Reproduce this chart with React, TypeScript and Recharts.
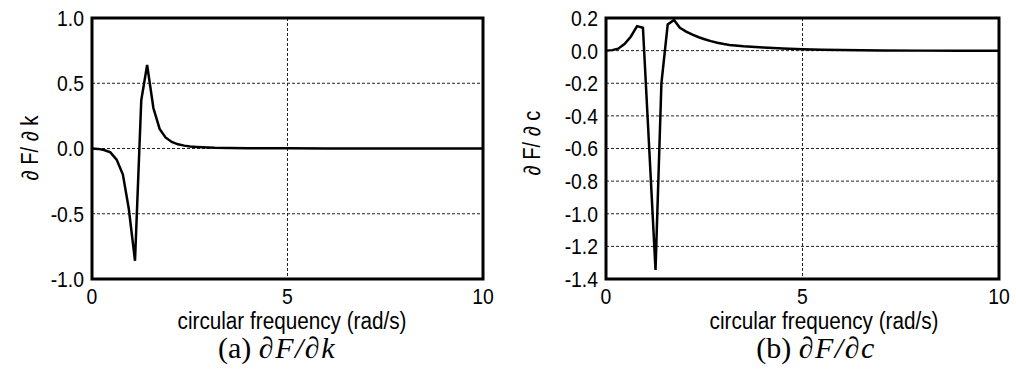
import React from 'react';
import { LineChart, Line, XAxis, YAxis, CartesianGrid, ReferenceArea } from 'recharts';

// circular frequency (rad/s) sample points
const freqA = [0, 0.16, 0.31, 0.47, 0.63, 0.79, 0.94, 1.1, 1.26, 1.41, 1.57, 1.73, 1.88, 2.04, 2.2, 2.36, 2.51, 2.67, 2.83, 2.98, 3.14, 3.5, 4, 5, 6, 7, 8, 9, 10];
const dFdk = [0, -0.003, -0.012, -0.03, -0.085, -0.2, -0.46, -0.86, 0.37, 0.64, 0.31, 0.15, 0.085, 0.05, 0.032, 0.022, 0.016, 0.012, 0.009, 0.007, 0.005, 0.003, 0.002, 0.001, 0, 0, 0, 0, 0];

const freqB = [0, 0.16, 0.31, 0.47, 0.63, 0.79, 0.94, 1.1, 1.26, 1.41, 1.57, 1.73, 1.88, 2.04, 2.2, 2.36, 2.51, 2.67, 2.83, 3.0, 3.14, 3.5, 4, 4.5, 5, 5.5, 6, 6.5, 7, 8, 9, 10];
const dFdc = [0, 0.003, 0.012, 0.04, 0.085, 0.15, 0.14, -0.6, -1.345, -0.2, 0.16, 0.188, 0.14, 0.117, 0.098, 0.082, 0.07, 0.058, 0.048, 0.04, 0.035, 0.027, 0.019, 0.013, 0.009, 0.006, 0.004, 0.002, 0.001, 0, 0, 0];

const xTicks = [0, 5, 10];
const yTicksA = [-1, -0.5, 0, 0.5, 1];
const yTicksB = [-1.4, -1.2, -1.0, -0.8, -0.6, -0.4, -0.2, 0, 0.2];

const dataA = freqA.map((f, i) => ({ f, v: dFdk[i] }));
const dataB = freqB.map((f, i) => ({ f, v: dFdc[i] }));

const SANS = "'Liberation Sans', Arial, sans-serif";
const SERIF = "'Liberation Serif', 'Times New Roman', serif";
const SQUEEZE = 0.88;

function XTick(props: any) {
  const { x, y, payload } = props;
  return (
    <text
      transform={`translate(${x},${y}) scale(${SQUEEZE},1)`}
      x={0}
      y={0}
      dy="0.75em"
      textAnchor="middle"
      fontFamily={SANS}
      fontSize={22}
      fill="#000"
    >
      {payload.value}
    </text>
  );
}

function YTick(props: any) {
  const { x, y, payload } = props;
  return (
    <text
      transform={`translate(${x},${y}) scale(${SQUEEZE},1)`}
      x={0}
      y={0}
      dy="0.36em"
      textAnchor="end"
      fontFamily={SANS}
      fontSize={22}
      fill="#000"
    >
      {Number(payload.value).toFixed(1)}
    </text>
  );
}

function Panel(props: {
  data: { f: number; v: number }[];
  yTicks: number[];
  yDomain: [number, number];
  marginLeft: number;
  width: number;
}) {
  const { data, yTicks, yDomain, marginLeft, width } = props;
  return (
    <LineChart
      width={width}
      height={381}
      data={data}
      margin={{ top: 18, right: 17, bottom: 72, left: marginLeft }}
    >
      <CartesianGrid stroke="#222" strokeDasharray="3 2" strokeWidth={1} />
      <XAxis
        dataKey="f"
        type="number"
        domain={[0, 10]}
        ticks={xTicks}
        tickLine={false}
        axisLine={false}
        tick={<XTick />}
        tickMargin={2}
        height={30}
        interval={0}
      />
      <YAxis
        type="number"
        domain={yDomain}
        ticks={yTicks}
        tickLine={false}
        axisLine={false}
        tick={<YTick />}
        width={60}
        interval={0}
      />
      <Line
        type="linear"
        dataKey="v"
        stroke="#000"
        strokeWidth={2.5}
        dot={false}
        isAnimationActive={false}
      />
      <ReferenceArea
        x1={0}
        x2={10}
        y1={yDomain[0]}
        y2={yDomain[1]}
        fill="none"
        fillOpacity={0}
        stroke="#000"
        strokeWidth={3}
        ifOverflow="visible"
      />
    </LineChart>
  );
}

const textBase: React.CSSProperties = { position: 'absolute', whiteSpace: 'nowrap', color: '#000', lineHeight: 1 };
const mathStyle: React.CSSProperties = { fontStyle: 'italic', letterSpacing: 1.5 };

export default function App() {
  return (
    <div style={{ position: 'absolute', left: 0, top: 0, width: 1016, height: 381, background: '#fff', overflow: 'hidden' }}>
      <div style={{ position: 'absolute', left: 0, top: 0 }}>
        <Panel data={dataA} yTicks={yTicksA} yDomain={[-1, 1]} marginLeft={32} width={500} />
      </div>
      <div style={{ position: 'absolute', left: 500, top: 0 }}>
        <Panel data={dataB} yTicks={yTicksB} yDomain={[-1.4, 0.2]} marginLeft={46} width={516} />
      </div>

      {/* y-axis titles */}
      <div style={{ ...textBase, fontFamily: SANS, fontSize: 23, left: 30, top: 148, transform: `translate(-50%, -50%) rotate(-90deg) scaleX(${SQUEEZE})` }}>∂ F/ ∂ k</div>
      <div style={{ ...textBase, fontFamily: SANS, fontSize: 23, left: 532, top: 143, transform: `translate(-50%, -50%) rotate(-90deg) scaleX(${SQUEEZE})` }}>∂ F/ ∂ c</div>

      {/* x-axis titles */}
      <div style={{ ...textBase, fontFamily: SANS, fontSize: 23, left: 292, top: 321, transform: 'translate(-50%, -50%) scaleX(0.9)' }}>circular frequency (rad/s)</div>
      <div style={{ ...textBase, fontFamily: SANS, fontSize: 23, left: 824, top: 321, transform: 'translate(-50%, -50%) scaleX(0.9)' }}>circular frequency (rad/s)</div>

      {/* captions */}
      <div style={{ ...textBase, fontFamily: SERIF, fontSize: 30, left: 277, top: 348, transform: 'translate(-50%, -50%)' }}>
        (a) <span style={mathStyle}>∂F/∂k</span>
      </div>
      <div style={{ ...textBase, fontFamily: SERIF, fontSize: 30, left: 816, top: 348, transform: 'translate(-50%, -50%)' }}>
        (b) <span style={mathStyle}>∂F/∂c</span>
      </div>
    </div>
  );
}
